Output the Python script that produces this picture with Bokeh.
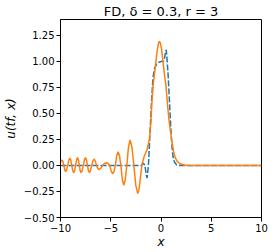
from bokeh.plotting import figure
from bokeh.models import Range1d, FixedTicker
from bokeh.embed import file_html
from bokeh.resources import INLINE

# ---- data ----
x_fd = [-10.0, -9.92, -9.83, -9.75, -9.67, -9.58, -9.50, -9.40, -9.28, -9.17,
        -9.07, -8.97, -8.88, -8.78, -8.68, -8.59, -8.50, -8.40, -8.31, -8.22,
        -8.13, -8.04, -7.95, -7.84, -7.73, -7.62, -7.52, -7.42, -7.32, -7.22,
        -7.12, -7.01, -6.90, -6.78, -6.66, -6.54, -6.42, -6.30, -6.19, -6.00,
        -5.80, -5.62, -5.43, -5.27, -5.10, -4.95, -4.80, -4.67, -4.55, -4.41,
        -4.27, -4.13, -3.99, -3.85, -3.71, -3.55, -3.40, -3.24, -3.08, -2.89,
        -2.70, -2.51, -2.32, -2.20, -2.10, -1.89, -1.66, -1.39, -1.16, -1.00,
        -0.90, -0.75, -0.56, -0.40, -0.25, -0.17, -0.08, 0.05, 0.20, 0.35,
        0.50, 0.65, 0.80, 0.95, 1.10, 1.26, 1.40, 1.60, 1.90, 2.30, 2.70, 10.0]
u_fd = [0.03, 0.045, 0.05, 0.035, 0.0, -0.04, -0.06, -0.045, 0.0, 0.05,
        0.07, 0.05, 0.0, -0.05, -0.07, -0.05, 0.0, 0.053, 0.075, 0.053,
        0.0, -0.05, -0.07, -0.05, 0.0, 0.053, 0.075, 0.053, 0.0, -0.05,
        -0.07, -0.05, 0.0, 0.043, 0.06, 0.043, 0.0, -0.028, -0.04, -0.028,
        0.0, 0.018, 0.025, 0.018, 0.0, -0.057, -0.08, -0.057, 0.0, 0.092,
        0.13, 0.092, 0.0, -0.135, -0.19, -0.135, 0.0, 0.174, 0.245, 0.174,
        0.0, -0.19, -0.27, -0.24, -0.16, 0.01, 0.09, 0.15, 0.25, 0.42,
        0.62, 0.80, 0.95, 1.09, 1.17, 1.19, 1.18, 1.12, 0.99, 0.87,
        0.76, 0.58, 0.43, 0.32, 0.22, 0.13, 0.08, 0.04, 0.015, 0.004, 0.0, 0.0]

x_ref = [-10.0, -1.95, -1.75, -1.60, -1.45, -1.38, -1.25, -1.10, -0.95, -0.80,
         -0.65, -0.45, -0.20, 0.10, 0.25, 0.35, 0.45, 0.52, 0.60, 0.70,
         0.80, 0.90, 1.00, 1.10, 1.20, 1.35, 1.55, 1.80, 10.0]
u_ref = [0.0, 0.0, 0.02, 0.0, -0.10, -0.12, 0.0, 0.30, 0.60, 0.84,
         0.93, 0.97, 0.99, 1.0, 1.0, 1.03, 1.09, 1.11, 1.02, 0.88,
         0.70, 0.50, 0.32, 0.17, 0.08, 0.03, 0.005, 0.0, 0.0]

x_ticks = [-10, -5, 0, 5, 10]
x_tick_labels = ["\u221210", "\u22125", "0", "5", "10"]
y_ticks = [-0.5, -0.25, 0.0, 0.25, 0.5, 0.75, 1.0, 1.25]
y_tick_labels = ["\u22120.50", "\u22120.25", "0.00", "0.25", "0.50", "0.75", "1.00", "1.25"]

title_text = "FD, \u03b4 = 0.3, r = 3"
x_label = "x"
y_label = "u(tf, x)"

FONT = "DejaVu Sans"

p = figure(width=274, height=252, x_range=Range1d(-10, 10), y_range=Range1d(-0.5, 1.4),
           output_backend="svg", toolbar_location=None,
           frame_width=201, frame_height=198,
           min_border_left=60, min_border_right=13, min_border_top=19, min_border_bottom=35,
           title=title_text)
p.background_fill_color = "white"
p.border_fill_color = "white"
p.outline_line_color = "black"
p.outline_line_width = 1
p.outline_line_alpha = 1.0
p.grid.visible = False

p.title.text_font = FONT
p.title.text_font_size = "13px"
p.title.text_font_style = "normal"
p.title.text_color = "black"
p.title.align = "center"
p.title.standoff = 1

for ax in (p.xaxis[0], p.yaxis[0]):
    ax.axis_line_color = "black"
    ax.major_tick_line_color = "black"
    ax.major_tick_out = 4
    ax.major_tick_in = 0
    ax.minor_tick_line_color = None
    ax.major_label_text_font = FONT
    ax.major_label_text_font_size = "10px"
    ax.major_label_text_color = "black"
    ax.axis_label_text_font = FONT
    ax.axis_label_text_font_size = "12px"
    ax.axis_label_text_font_style = "italic"
    ax.axis_label_text_color = "black"

p.xaxis.ticker = FixedTicker(ticks=x_ticks)
p.xaxis.major_label_overrides = {t: l for t, l in zip(x_ticks, x_tick_labels)}
p.xaxis.major_label_standoff = 2
p.xaxis.axis_label = x_label
p.xaxis.axis_label_standoff = 0

p.yaxis.ticker = FixedTicker(ticks=y_ticks)
p.yaxis.major_label_overrides = {t: l for t, l in zip(y_ticks, y_tick_labels)}
p.yaxis.major_label_standoff = 2
p.yaxis.axis_label = y_label
p.yaxis.axis_label_standoff = 3

p.line(x_ref, u_ref, line_color="#1f77b4", line_width=1.5, line_dash="6 2")
p.line(x_fd, u_fd, line_color="#ff7f0e", line_width=1.5)

open("out.html", "w").write(file_html(p, INLINE))
